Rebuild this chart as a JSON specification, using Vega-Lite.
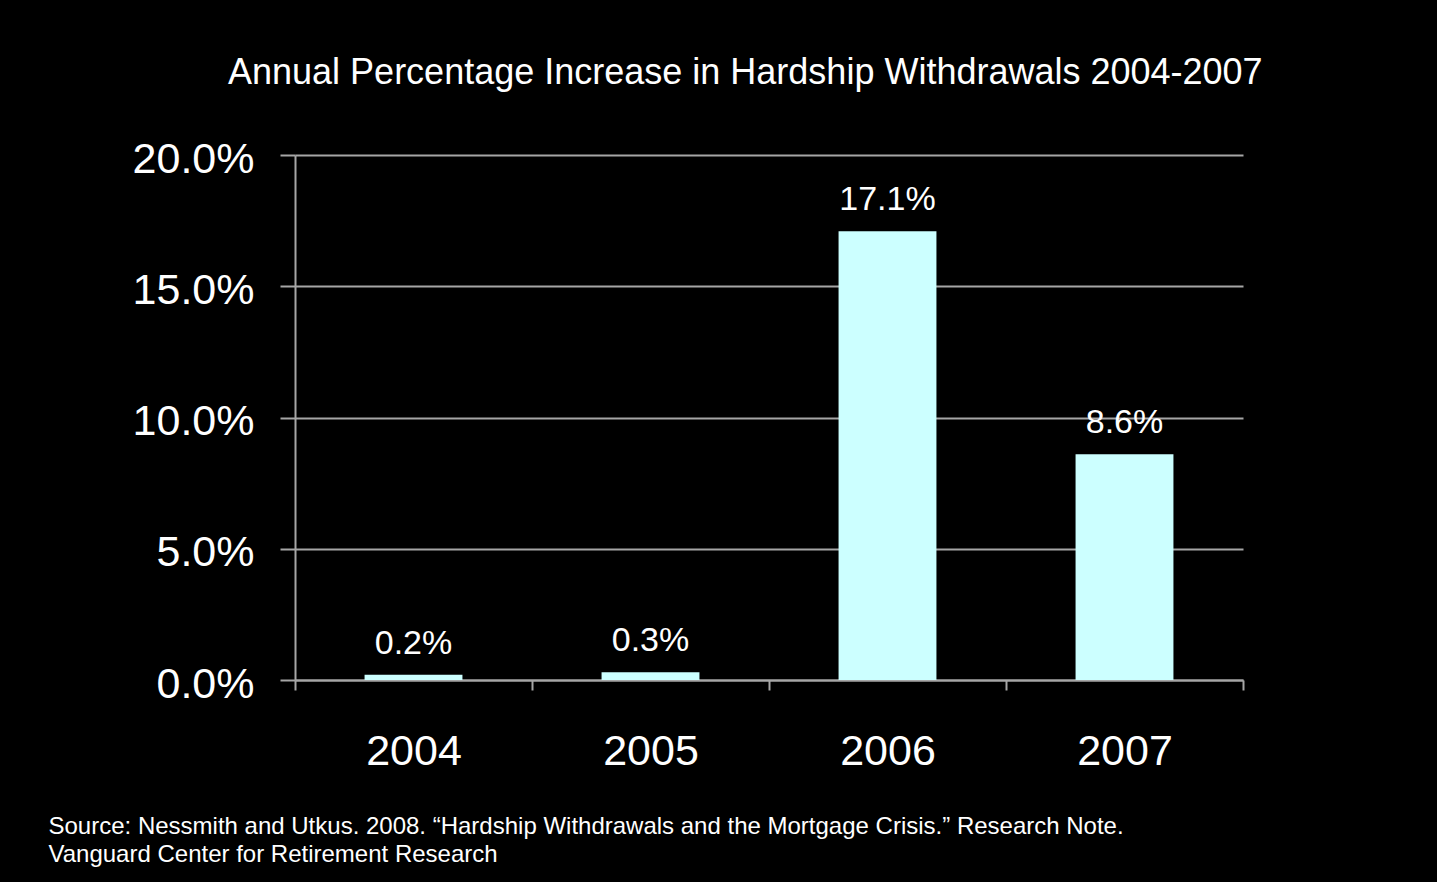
{
  "$schema": "https://vega.github.io/schema/vega-lite/v6.json",
  "autosize": "none",
  "width": 948,
  "height": 525,
  "padding": {"left": 295, "top": 155, "right": 194, "bottom": 202},
  "background": "#000000",
  "config": {
    "font": "Liberation Sans",
    "view": {"stroke": null},
    "axis": {"labelFont": "Liberation Sans", "titleFont": "Liberation Sans"}
  },
  "title": {
    "text": "Annual Percentage Increase in Hardship Withdrawals 2004-2007",
    "anchor": "start",
    "frame": "group",
    "dx": -67,
    "offset": 46,
    "fontSize": 36,
    "fontWeight": "normal",
    "color": "#ffffff",
    "font": "Liberation Sans"
  },
  "data": {
    "values": [
      {"year": "2004", "pct": 0.002},
      {"year": "2005", "pct": 0.003},
      {"year": "2006", "pct": 0.171},
      {"year": "2007", "pct": 0.086}
    ]
  },
  "encoding": {
    "x": {
      "field": "year",
      "type": "nominal",
      "sort": null,
      "scale": {"paddingInner": 0, "paddingOuter": 0},
      "axis": {
        "labelAngle": 0,
        "labelFontSize": 43,
        "labelColor": "#ffffff",
        "labelPadding": 40,
        "tickBand": "extent",
        "tickSize": 10,
        "tickColor": "#a6a6a6",
        "tickWidth": 2,
        "domainColor": "#a6a6a6",
        "domainWidth": 2,
        "title": ["Source: Nessmith and Utkus. 2008. \u201cHardship Withdrawals and the Mortgage Crisis.\u201d Research Note.", "Vanguard Center for Retirement Research"],
        "titleFontSize": 24,
        "titleFontWeight": "normal",
        "titleColor": "#ffffff",
        "titleAnchor": "start",
        "titleAlign": "left",
        "titleBaseline": "alphabetic",
        "titleLineHeight": 28,
        "titleX": -247,
        "titleY": 153
      }
    },
    "y": {
      "field": "pct",
      "type": "quantitative",
      "scale": {"domain": [0, 0.2], "nice": false},
      "axis": {
        "values": [0, 0.05, 0.1, 0.15, 0.2],
        "format": ".1%",
        "labelFontSize": 43,
        "labelColor": "#ffffff",
        "labelPadding": 26,
        "labelBaseline": "middle",
        "labelOffset": 4,
        "tickSize": 15,
        "tickColor": "#a6a6a6",
        "tickWidth": 2,
        "domainColor": "#a6a6a6",
        "domainWidth": 2,
        "grid": true,
        "gridColor": "#a6a6a6",
        "gridWidth": 2,
        "title": null
      }
    }
  },
  "layer": [
    {"mark": {"type": "bar", "color": "#ccffff", "width": {"band": 0.413}}},
    {
      "mark": {"type": "text", "color": "#ffffff", "fontSize": 34, "baseline": "alphabetic", "dy": -21, "font": "Liberation Sans"},
      "encoding": {"text": {"field": "pct", "type": "quantitative", "format": ".1%"}}
    }
  ]
}
